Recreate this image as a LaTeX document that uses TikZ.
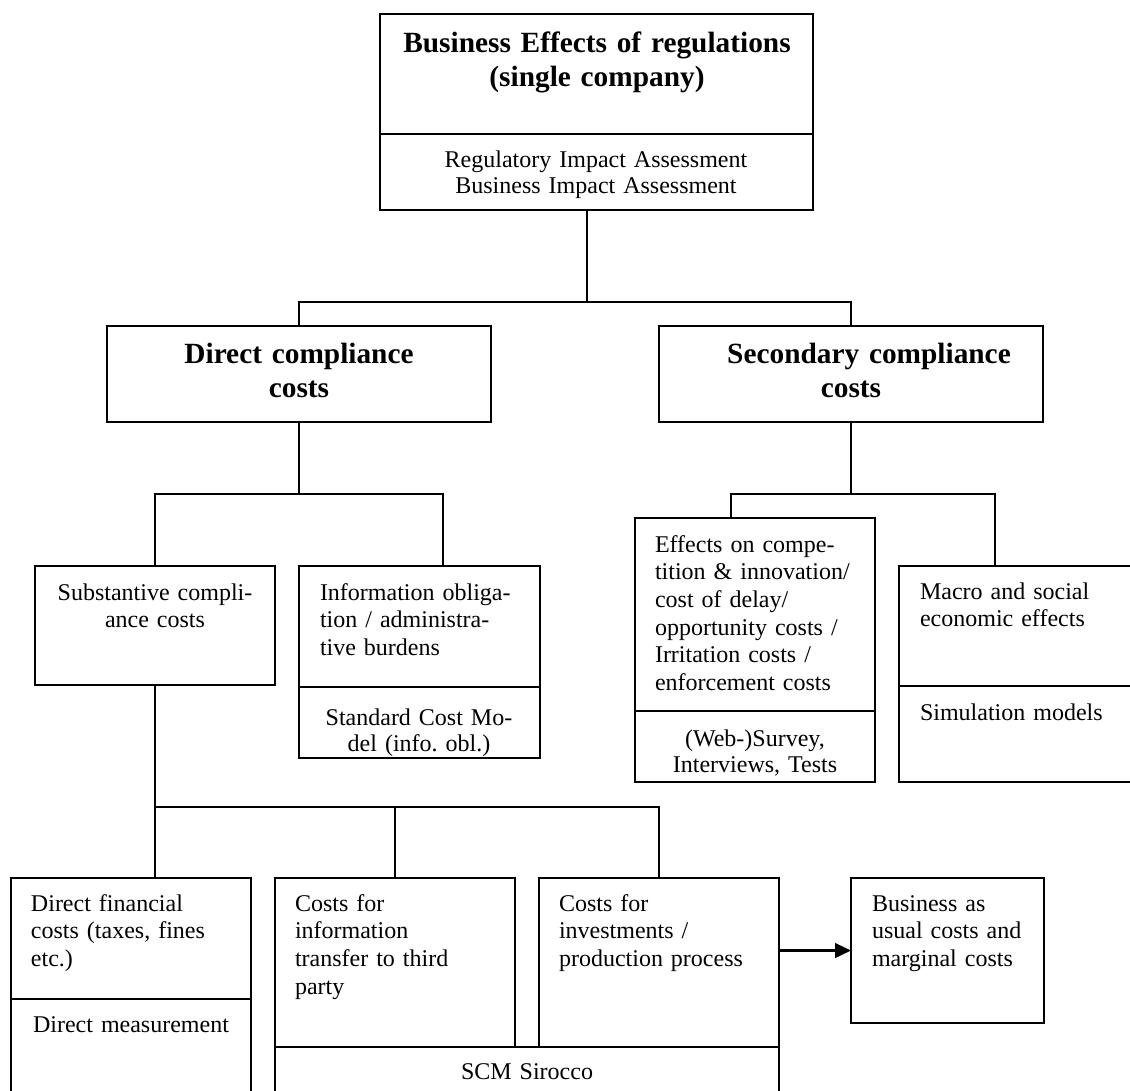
\documentclass[tikz,border=0pt]{standalone}
\usepackage{fontspec}
\setmainfont{Liberation Serif}
\frenchspacing
\usetikzlibrary{fit,arrows.meta}
\tikzset{
  box/.style={draw, line width=1.2pt, inner sep=0pt, outer sep=0pt},
  conn/.style={line width=1.2pt},
  arr/.style={line width=1.8pt, -{Triangle[length=12pt,width=11pt]}},
  txt/.style={inner sep=0pt, outer sep=0pt, text width=300pt, font=\frenchspacing\fontsize{18}{20.8}\selectfont},
  ltxt/.style={txt, anchor=base west, align=left},
  ctxt/.style={txt, anchor=base, align=center},
  ctxtb/.style={txt, anchor=base, align=center, font=\frenchspacing\fontsize{18}{19.5}\selectfont},
  btxt/.style={inner sep=0pt, outer sep=0pt, text width=330pt, anchor=base, align=center, font=\fontsize{22}{25.8}\selectfont\bfseries}
}
\begin{document}
\begin{tikzpicture}[x=0.75pt,y=-0.75pt]
\useasboundingbox (0,0) rectangle (1130,1090);
\clip (0,0) rectangle (1130,1090);
\fill[white] (0,0) rectangle (1130,1090);

% boxes
\node[box, fit={(380,14) (813,134)}] (topA) {};
\node[box, fit={(380,134) (813,210)}] (topB) {};
\node[box, fit={(107,326) (491,422)}] (dir) {};
\node[box, fit={(659,326) (1043,422)}] (sec) {};
\node[box, fit={(35,566) (275,685)}] (sub) {};
\node[box, fit={(299,566) (540,687)}] (infoA) {};
\node[box, fit={(299,687) (540,758)}] (infoB) {};
\node[box, fit={(635,518) (875,711)}] (effA) {};
\node[box, fit={(635,711) (875,782)}] (effB) {};
\node[box, fit={(899,566) (1160,686)}] (macA) {};
\node[box, fit={(899,686) (1160,782)}] (macB) {};
\node[box, fit={(11,878) (251,999)}] (finA) {};
\node[box, fit={(11,999) (251,1120)}] (finB) {};
\node[box, fit={(275,878) (515,1047)}] (cinfo) {};
\node[box, fit={(539,878) (779,1047)}] (inv) {};
\node[box, fit={(275,1047) (779,1120)}] (scm) {};
\node[box, fit={(851,878) (1044,1023)}] (bau) {};

% texts
\node[btxt] (tTitle) at (597,52) {Business Effects of regulations\\(single company)};
\node[ctxtb] (tRIA) at (596,167) {Regulatory Impact Assessment\\Business Impact Assessment};
\node[btxt] (tDir) at (299,363) {Direct compliance\\costs};
\node[btxt] (tSec) at (851,363) {\hspace*{27pt}Secondary compliance\\costs};
\node[ctxt] (tSub) at (155,600) {Substantive compli-\\ance costs};
\node[ltxt] (tInfo) at (320,600) {Information obliga-\\tion / administra-\\tive burdens};
\node[ctxtb] (tSCMod) at (419,725) {Standard Cost Mo-\\del (info. obl.)};
\node[ltxt] (tEff) at (655,552) {Effects on compe-\\tition \& innovation/\\cost of delay/\\opportunity costs /\\Irritation costs /\\enforcement costs};
\node[ctxtb] (tWeb) at (755,746) {(Web-)Survey,\\Interviews, Tests};
\node[ltxt] (tMac) at (920,599) {Macro and social\\economic effects};
\node[ltxt] (tSim) at (920,720) {Simulation models};
\node[ltxt] (tFin) at (31,911) {Direct financial\\costs (taxes, fines\\etc.)};
\node[ctxt] (tMeas) at (131,1032) {Direct measurement};
\node[ltxt] (tCinfo) at (295,911) {Costs for\\information\\transfer to third\\party};
\node[ltxt] (tInv) at (559,911) {Costs for\\investments /\\production process};
\node[ctxt] (tSCM) at (527,1079) {SCM Sirocco};
\node[ltxt] (tBau) at (872,911) {Business as\\usual costs and\\marginal costs};

% connectors
\coordinate (j1) at (587,302);
\draw[conn] (topB.south -| j1) -- (j1);
\draw[conn] (dir.north) |- (j1) -| (sec.north);

\coordinate (j2) at (299,494);
\coordinate (infoIn) at (443,566);
\draw[conn] (dir.south) -- (j2);
\draw[conn] (sub.north) |- (j2) -| (infoIn);

\coordinate (j3) at (851,494);
\coordinate (effIn) at (731,518);
\coordinate (macIn) at (995,566);
\draw[conn] (sec.south) -- (j3);
\draw[conn] (effIn) |- (j3) -| (macIn);

\coordinate (j4) at (155,807);
\coordinate (finIn) at (155,878);
\draw[conn] (sub.south) -- (j4);
\draw[conn] (finIn) -- (j4) -| (inv.north);
\draw[conn] (cinfo.north) -- (cinfo.north |- j4);

\draw[arr] (inv.east |- bau.west) -- (bau.west);
\end{tikzpicture}
\end{document}
